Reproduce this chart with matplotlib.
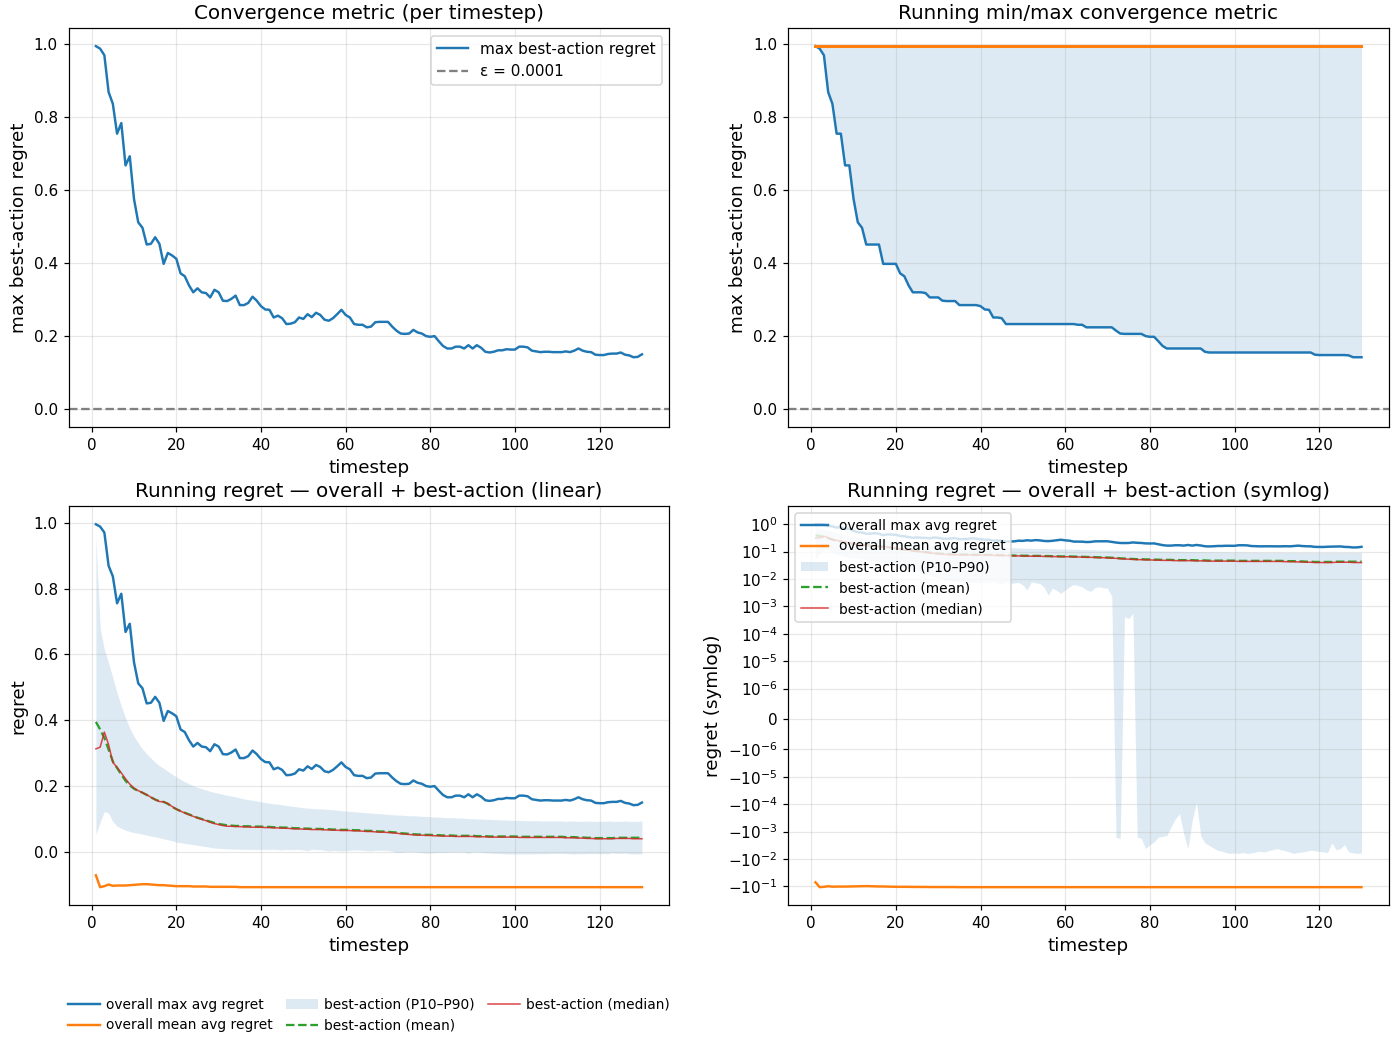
import numpy as np
import matplotlib
matplotlib.use("Agg")
import matplotlib.pyplot as plt

timesteps = list(range(1, 131))
eps = 0.0001

# max best-action regret per timestep (also "overall max avg regret")
max_regret = [
    0.995, 0.988, 0.970, 0.869, 0.837, 0.755, 0.784, 0.668, 0.693, 0.576,
    0.512, 0.497, 0.451, 0.453, 0.471, 0.453, 0.398, 0.428, 0.421, 0.412,
    0.372, 0.364, 0.339, 0.320, 0.331, 0.320, 0.318, 0.306, 0.327, 0.320,
    0.297, 0.296, 0.302, 0.311, 0.285, 0.285, 0.291, 0.308, 0.297, 0.282,
    0.273, 0.272, 0.251, 0.256, 0.249, 0.233, 0.234, 0.238, 0.251, 0.247,
    0.260, 0.252, 0.264, 0.258, 0.245, 0.242, 0.249, 0.260, 0.272, 0.258,
    0.251, 0.233, 0.231, 0.231, 0.224, 0.226, 0.238, 0.239, 0.239, 0.239,
    0.226, 0.215, 0.207, 0.206, 0.207, 0.217, 0.210, 0.207, 0.200, 0.198,
    0.200, 0.186, 0.173, 0.166, 0.166, 0.171, 0.171, 0.166, 0.175, 0.166,
    0.175, 0.168, 0.157, 0.155, 0.157, 0.161, 0.161, 0.164, 0.163, 0.163,
    0.171, 0.171, 0.169, 0.160, 0.158, 0.156, 0.157, 0.157, 0.156, 0.156,
    0.156, 0.158, 0.156, 0.160, 0.166, 0.160, 0.157, 0.156, 0.149, 0.148,
    0.148, 0.151, 0.152, 0.152, 0.155, 0.149, 0.147, 0.142, 0.143, 0.150,
]

overall_mean = [
    -0.071, -0.107, -0.104, -0.099, -0.103, -0.102, -0.102, -0.102, -0.101, -0.100,
    -0.099, -0.098, -0.098, -0.099, -0.100, -0.101, -0.101, -0.102, -0.103, -0.104,
    -0.104, -0.104, -0.104, -0.105, -0.105, -0.105, -0.105, -0.106, -0.106, -0.106,
    -0.106, -0.106, -0.106, -0.106, -0.107, -0.107, -0.107, -0.107, -0.107, -0.107,
    -0.107, -0.107, -0.107, -0.107, -0.107, -0.107, -0.107, -0.107, -0.107, -0.107,
    -0.107, -0.107, -0.107, -0.107, -0.107, -0.107, -0.107, -0.107, -0.107, -0.107,
    -0.107, -0.107, -0.107, -0.107, -0.107, -0.107, -0.107, -0.107, -0.107, -0.107,
    -0.107, -0.107, -0.107, -0.107, -0.107, -0.107, -0.107, -0.107, -0.107, -0.107,
    -0.107, -0.107, -0.107, -0.107, -0.107, -0.107, -0.107, -0.107, -0.107, -0.107,
    -0.107, -0.107, -0.107, -0.107, -0.107, -0.107, -0.107, -0.107, -0.107, -0.107,
    -0.107, -0.107, -0.107, -0.107, -0.107, -0.107, -0.107, -0.107, -0.107, -0.107,
    -0.107, -0.107, -0.107, -0.107, -0.107, -0.107, -0.107, -0.107, -0.107, -0.107,
    -0.107, -0.107, -0.107, -0.107, -0.107, -0.107, -0.107, -0.107, -0.107, -0.107,
]

best_mean = [
    0.395, 0.372, 0.346, 0.311, 0.275, 0.255, 0.235, 0.216, 0.202, 0.192,
    0.185, 0.180, 0.173, 0.166, 0.159, 0.154, 0.152, 0.146, 0.137, 0.130,
    0.124, 0.119, 0.114, 0.109, 0.104, 0.100, 0.096, 0.092, 0.088, 0.085,
    0.083, 0.081, 0.080, 0.079, 0.079, 0.078, 0.078, 0.077, 0.077, 0.077,
    0.076, 0.076, 0.075, 0.075, 0.074, 0.074, 0.073, 0.072, 0.072, 0.071,
    0.071, 0.070, 0.070, 0.070, 0.069, 0.069, 0.068, 0.068, 0.067, 0.067,
    0.067, 0.066, 0.066, 0.065, 0.064, 0.064, 0.063, 0.062, 0.062, 0.061,
    0.060, 0.059, 0.057, 0.056, 0.055, 0.054, 0.053, 0.053, 0.052, 0.052,
    0.051, 0.051, 0.050, 0.050, 0.050, 0.049, 0.049, 0.049, 0.049, 0.049,
    0.048, 0.048, 0.048, 0.047, 0.047, 0.047, 0.047, 0.047, 0.047, 0.047,
    0.046, 0.046, 0.046, 0.046, 0.046, 0.046, 0.046, 0.046, 0.046, 0.046,
    0.046, 0.045, 0.045, 0.045, 0.044, 0.044, 0.043, 0.043, 0.042, 0.042,
    0.042, 0.042, 0.042, 0.043, 0.043, 0.043, 0.043, 0.043, 0.043, 0.043,
]

best_median = [
    0.313, 0.318, 0.364, 0.326, 0.272, 0.257, 0.240, 0.222, 0.206, 0.194,
    0.186, 0.180, 0.174, 0.166, 0.159, 0.153, 0.152, 0.147, 0.138, 0.130,
    0.124, 0.118, 0.113, 0.108, 0.103, 0.099, 0.095, 0.090, 0.086, 0.083,
    0.080, 0.078, 0.078, 0.077, 0.077, 0.076, 0.076, 0.075, 0.075, 0.075,
    0.074, 0.074, 0.073, 0.073, 0.072, 0.072, 0.071, 0.070, 0.070, 0.069,
    0.069, 0.068, 0.068, 0.068, 0.067, 0.067, 0.066, 0.066, 0.065, 0.065,
    0.065, 0.064, 0.064, 0.063, 0.062, 0.062, 0.061, 0.060, 0.060, 0.059,
    0.058, 0.057, 0.055, 0.054, 0.053, 0.052, 0.051, 0.051, 0.050, 0.050,
    0.049, 0.049, 0.048, 0.048, 0.048, 0.047, 0.047, 0.047, 0.047, 0.047,
    0.046, 0.046, 0.046, 0.045, 0.045, 0.045, 0.045, 0.045, 0.045, 0.045,
    0.044, 0.044, 0.044, 0.044, 0.044, 0.044, 0.044, 0.044, 0.044, 0.044,
    0.044, 0.043, 0.043, 0.043, 0.042, 0.042, 0.041, 0.041, 0.040, 0.040,
    0.040, 0.040, 0.040, 0.041, 0.041, 0.041, 0.041, 0.040, 0.040, 0.040,
]

best_p90 = [
    0.960, 0.680, 0.615, 0.574, 0.529, 0.483, 0.443, 0.407, 0.377, 0.351,
    0.331, 0.313, 0.298, 0.285, 0.272, 0.262, 0.254, 0.245, 0.236, 0.228,
    0.220, 0.213, 0.207, 0.201, 0.196, 0.192, 0.188, 0.184, 0.181, 0.178,
    0.175, 0.172, 0.170, 0.167, 0.164, 0.161, 0.159, 0.157, 0.155, 0.152,
    0.150, 0.148, 0.146, 0.145, 0.143, 0.141, 0.139, 0.138, 0.136, 0.134,
    0.133, 0.132, 0.131, 0.131, 0.130, 0.129, 0.128, 0.127, 0.125, 0.124,
    0.123, 0.122, 0.121, 0.120, 0.119, 0.118, 0.117, 0.116, 0.115, 0.114,
    0.113, 0.112, 0.112, 0.111, 0.110, 0.110, 0.109, 0.108, 0.108, 0.107,
    0.106, 0.106, 0.105, 0.104, 0.104, 0.103, 0.103, 0.102, 0.101, 0.101,
    0.100, 0.100, 0.099, 0.099, 0.098, 0.098, 0.097, 0.097, 0.096, 0.096,
    0.096, 0.095, 0.095, 0.095, 0.095, 0.094, 0.094, 0.094, 0.094, 0.094,
    0.094, 0.093, 0.094, 0.094, 0.093, 0.093, 0.094, 0.093, 0.093, 0.093,
    0.093, 0.094, 0.093, 0.093, 0.093, 0.094, 0.093, 0.093, 0.093, 0.094,
]

best_p10 = [
    0.053, 0.090, 0.123, 0.118, 0.092, 0.078, 0.072, 0.066, 0.062, 0.059,
    0.057, 0.054, 0.051, 0.048, 0.046, 0.043, 0.040, 0.037, 0.034, 0.030,
    0.028, 0.026, 0.024, 0.022, 0.020, 0.018, 0.016, 0.014, 0.012, 0.011,
    0.0100, 0.0095, 0.0090, 0.0085, 0.0082, 0.0080, 0.0078, 0.0076, 0.0075, 0.0074,
    0.0078, 0.0072, 0.0080, 0.0070, 0.0065, 0.0076, 0.0069, 0.0072, 0.0075, 0.0060,
    0.0040, 0.0079, 0.0072, 0.0069, 0.0050, 0.0026, 0.0046, 0.0038, 0.0030, 0.0040,
    0.0052, 0.0063, 0.0058, 0.0052, 0.0040, 0.0035, 0.0048, 0.0052, 0.0048, 0.0046,
    0.0023, -0.0016, -0.0018, 0.00042, 0.00036, 0.00056, -0.0016, -0.0018, -0.0042, -0.0030,
    -0.0024, -0.0016, -0.0015, -0.0014, -0.00067, -0.00035, -0.00022, -0.0012, -0.0042, -0.0004,
    -0.000082, -0.0014, -0.0026, -0.0032, -0.0040, -0.0048, -0.0052, -0.0058, -0.0063, -0.0060,
    -0.0063, -0.0058, -0.0063, -0.0060, -0.0056, -0.0052, -0.0056, -0.0050, -0.0046, -0.0042,
    -0.0046, -0.0050, -0.0056, -0.0063, -0.0058, -0.0056, -0.0052, -0.0048, -0.0050, -0.0053,
    -0.0056, -0.0058, -0.0026, -0.0046, -0.0042, -0.0030, -0.0056, -0.0060, -0.0063, -0.0060,
]

t = np.array(timesteps)
mx = np.array(max_regret)
run_min = np.minimum.accumulate(mx)
run_max = np.maximum.accumulate(mx)

fig, axes = plt.subplots(2, 2, figsize=(1400 / 110, 1037 / 110), dpi=110)
fig.subplots_adjust(left=0.049, right=0.992, top=0.973, bottom=0.127,
                    wspace=0.198, hspace=0.198)
ax1, ax2, ax3, ax4 = axes.ravel()

# per timestep
ax1.plot(t, mx, color="C0", lw=1.6, label="max best-action regret")
ax1.axhline(eps, color="gray", ls="--", lw=1.5, label="ε = 0.0001")
ax1.set_title("Convergence metric (per timestep)", fontsize=13)
ax1.set_xlabel("timestep", fontsize=12)
ax1.set_ylabel("max best-action regret", fontsize=12)
ax1.grid(True, alpha=0.3)
ax1.legend(loc="upper right", fontsize=10)

# running min / max
ax2.fill_between(t, run_min, run_max, color="C0", alpha=0.15, lw=0)
ax2.plot(t, run_min, color="C0", lw=1.6)
ax2.plot(t, run_max, color="C1", lw=2)
ax2.axhline(eps, color="gray", ls="--", lw=1.5)
ax2.set_title("Running min/max convergence metric", fontsize=13)
ax2.set_xlabel("timestep", fontsize=12)
ax2.set_ylabel("max best-action regret", fontsize=12)
ax2.grid(True, alpha=0.3)


def regret_panel(ax):
    ax.plot(t, mx, color="C0", lw=1.6, label="overall max avg regret")
    ax.plot(t, overall_mean, color="C1", lw=1.6, label="overall mean avg regret")
    ax.fill_between(t, best_p10, best_p90, color="C0", alpha=0.15, lw=0,
                    label="best-action (P10–P90)")
    ax.plot(t, best_mean, color="C2", ls="--", lw=1.5, label="best-action (mean)")
    ax.plot(t, best_median, color="C3", lw=1.0, alpha=0.85, label="best-action (median)")
    ax.set_xlabel("timestep", fontsize=12)
    ax.grid(True, alpha=0.3)


regret_panel(ax3)
ax3.set_title("Running regret — overall + best-action (linear)", fontsize=13)
ax3.set_ylabel("regret", fontsize=12)
ax3.legend(loc="upper center", bbox_to_anchor=(0.5, -0.2), ncol=3,
           frameon=False, fontsize=9, handlelength=2.3,
           handletextpad=0.45, columnspacing=1.0)

regret_panel(ax4)
ax4.set_yscale("symlog", linthresh=1e-6)
ax4.set_yticks([1, 1e-1, 1e-2, 1e-3, 1e-4, 1e-5, 1e-6, 0,
                -1e-6, -1e-5, -1e-4, -1e-3, -1e-2, -1e-1])
ax4.set_title("Running regret — overall + best-action (symlog)", fontsize=13)
ax4.set_ylabel("regret (symlog)", fontsize=12)
ax4.legend(loc="upper left", fontsize=9)

plt.savefig("out.png")
